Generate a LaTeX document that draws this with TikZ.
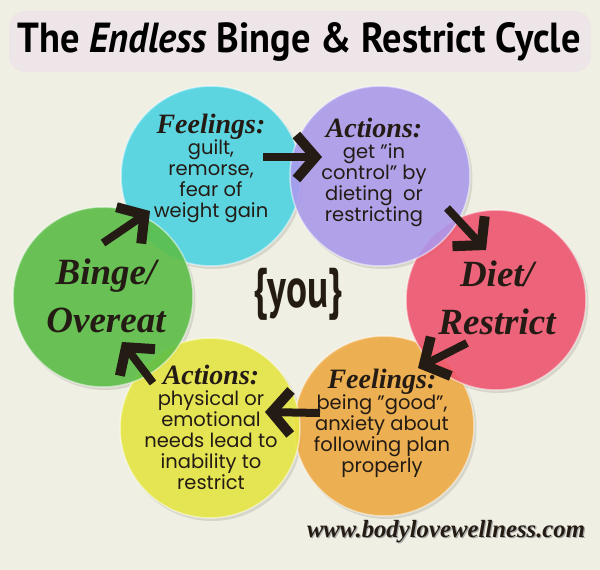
\documentclass[tikz,border=0pt]{standalone}
\usepackage{fontspec}
\usetikzlibrary{arrows.meta}
\setmainfont{Poppins}
\newfontfamily\titlefont{PT Sans}
\newfontfamily\scrfont{Liberation Serif}

\definecolor{bg}{HTML}{EFEFE3}
\definecolor{titlebg}{HTML}{EEE5E9}
\definecolor{ink}{HTML}{231B14}
\definecolor{ccyan}{HTML}{4DD5E5}
\definecolor{cpurple}{HTML}{AC9AEE}
\definecolor{cred}{HTML}{F0546F}
\definecolor{corange}{HTML}{F0AA42}
\definecolor{cyellow}{HTML}{E8E844}
\definecolor{cgreen}{HTML}{5BBE45}

\newcommand\hd[1]{{\scrfont\bfseries\itshape\fontsize{28}{26}\selectfont #1}}

\begin{document}
\begin{tikzpicture}[x=1pt,y=-1pt,
  circ/.style={circle, minimum size=180pt, inner sep=0pt, fill opacity=0.88,
    draw=white, draw opacity=0.5, line width=1.5pt},
  bodytxt/.style={align=center, text=ink, inner sep=0pt,
    font=\fontsize{19.5}{21}\selectfont},
  bigtxt/.style={align=center, text=ink, inner sep=0pt,
    font=\scrfont\bfseries\itshape\fontsize{37}{48}\selectfont},
  arr/.style={draw=ink, line width=8pt,
    -{Straight Barb[length=19pt,width=44pt,line width=10pt]}},
  shadow/.style={fill=black, opacity=0.10}
]
\useasboundingbox (0,0) rectangle (600,570);
\fill[bg] (0,0) rectangle (600,570);

% title
\fill[titlebg, rounded corners=16pt] (9,11) rectangle (591,72);
\node[anchor=base, inner sep=0pt, text=black] (title) at (299,52)
  {\resizebox{563pt}{30pt}{\titlefont\bfseries\fontsize{40}{40}\selectfont The \textit{Endless} Binge \& Restrict Cycle}};

% shadows
\foreach \cx/\cy in {211/176, 380/176, 496/300, 384/426, 210/428, 103/297}
  \fill[shadow] (\cx+2,\cy+2.5) circle (90.5);

% circles
\node[circ, fill=corange] (orange) at (384,426) {};
\node[circ, fill=cyellow] (yellow) at (210,428) {};
\node[circ, fill=cred]    (red)    at (496,300) {};
\node[circ, fill=ccyan]   (cyan)   at (211,176) {};
\node[circ, fill=cpurple] (purple) at (380,176) {};
\node[circ, fill=cgreen]  (green)  at (103,297) {};

% texts
\node[bodytxt] (tcyan) at (211,168)
  {\hd{Feelings:}\\guilt,\\remorse,\\fear of\\weight gain};
\node[bodytxt] (tpurple) at (374,172)
  {\hd{Actions:}\\get "in\\control" by\\dieting\ \ or\\restricting};
\node[bodytxt] (tyellow) at (211,427)
  {\hd{Actions:}\\physical or\\emotional\\needs lead to\\inability to\\restrict};
\node[bodytxt] (torange) at (382,423)
  {\hd{Feelings:}\\being "good",\\anxiety about\\following plan\\properly};

\node[bigtxt] (tgreen) at (106,296) {Binge/\\Overeat};
\node[bigtxt] (tred) at (497,298) {Diet/\\Restrict};

\node[inner sep=0pt, text=ink] (you) at (298,294)
  {\scalebox{0.7}[1]{\titlefont\bfseries\fontsize{56}{56}\selectfont\{you\}}};

\node[anchor=base, inner sep=0pt, text=ink] (web) at (446,537)
  {\resizebox{278pt}{!}{\scrfont\bfseries\itshape\fontsize{30}{30}\selectfont
   \makebox[0pt][l]{\raisebox{-1.5pt}{\hspace{1.5pt}\color{black!35}www.bodylovewellness.com}}www.bodylovewellness.com}};

% arrows
\coordinate (a1s) at (263,157); \coordinate (a1e) at (322,157);
\coordinate (a2s) at (447,208); \coordinate (a2e) at (486,250);
\coordinate (a3s) at (467,343); \coordinate (a3e) at (418,368);
\coordinate (a4s) at (320,413); \coordinate (a4e) at (265,412);
\coordinate (a5s) at (153,383); \coordinate (a5e) at (122,342);
\coordinate (a6s) at (103,243); \coordinate (a6e) at (150,211);
\draw[arr] (a1s) -- (a1e);
\draw[arr] (a2s) -- (a2e);
\draw[arr] (a3s) -- (a3e);
\draw[arr] (a4s) -- (a4e);
\draw[arr] (a5s) -- (a5e);
\draw[arr] (a6s) -- (a6e);
\end{tikzpicture}
\end{document}
